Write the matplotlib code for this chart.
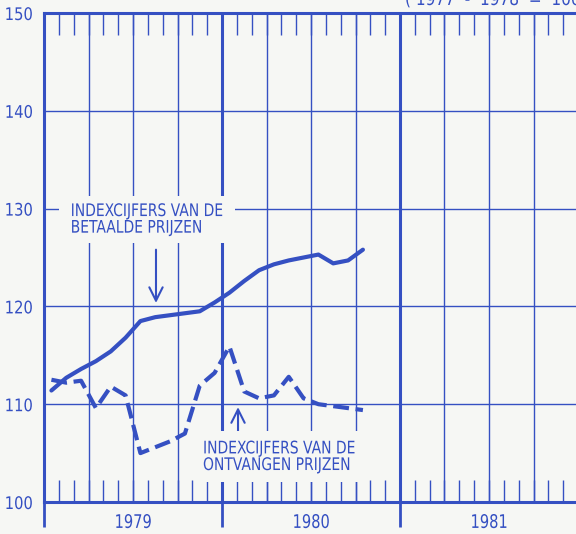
import numpy as np
import matplotlib
matplotlib.use("Agg")
import matplotlib.pyplot as plt
import matplotlib.patheffects as pe
import matplotlib.transforms as mtransforms
from matplotlib.transforms import Affine2D
from matplotlib.patches import Rectangle
from matplotlib.ticker import MultipleLocator, FixedLocator

# ---------------- data ----------------
months = ["1979-01", "1979-02", "1979-03", "1979-04", "1979-05", "1979-06",
          "1979-07", "1979-08", "1979-09", "1979-10", "1979-11", "1979-12",
          "1980-01", "1980-02", "1980-03", "1980-04", "1980-05", "1980-06",
          "1980-07", "1980-08", "1980-09", "1980-10"]
betaalde = [111.4, 112.7, 113.6, 114.4, 115.4, 116.8, 118.5, 118.9, 119.1, 119.3,
            119.5, 120.4, 121.4, 122.6, 123.7, 124.3, 124.7, 125.0, 125.3, 124.4,
            124.7, 125.8]
ontvangen = [112.5, 112.2, 112.4, 109.6, 111.8, 110.9, 105.0, 105.6, 106.2, 107.0,
             111.9, 113.2, 115.9, 111.3, 110.6, 110.9, 112.8, 110.6, 110.0, 109.8,
             109.6, 109.4]
years = ["1979", "1980", "1981"]
yticks = [100, 110, 120, 130, 140, 150]
label_betaalde = "INDEXCIJFERS VAN DE\nBETAALDE PRIJZEN"
label_ontvangen = "INDEXCIJFERS VAN DE\nONTVANGEN PRIJZEN"
basis = "( 1977  -  1978  =  100)"

# ---------------- style ----------------
BLUE = "#3550c2"
BG = "#f6f7f4"
plt.rcParams["font.family"] = ["DejaVu Sans"]


class Condense(pe.AbstractPathEffect):
    """Draw text horizontally condensed (the original uses a narrow stencil face)."""

    def __init__(self, sx, anchor="left"):
        super().__init__()
        self.sx = sx
        self.anchor = anchor

    def draw_path(self, renderer, gc, tpath, affine, rgbFace=None):
        ext = tpath.get_extents()
        if self.anchor == "center":
            cx = 0.5 * (ext.x0 + ext.x1)
        elif self.anchor == "right":
            cx = ext.x1
        else:
            cx = 0.0
        t = Affine2D().translate(-cx, 0).scale(self.sx, 1).translate(cx, 0)
        renderer.draw_path(gc, tpath, t + affine, rgbFace)


fig = plt.figure(figsize=(5.76, 5.34), dpi=100, facecolor=BG)
ax = fig.add_axes([44 / 576, 32 / 534, (576 - 44) / 576, (502 - 13) / 534])
ax.set_facecolor(BG)

x = np.arange(len(months)) + 0.5
ax.set_xlim(0, (576 - 44) / (178 / 12))
ax.set_ylim(100, 150)

# grid
for v in yticks[1:-1]:
    ax.axhline(v, color=BLUE, lw=1.0, zorder=1)
for q in range(3, 37, 3):
    ax.axvline(q, color=BLUE, lw=2.2 if q % 12 == 0 else 1.0, zorder=1)

# spines
for s in ["left", "top", "bottom"]:
    ax.spines[s].set_color(BLUE)
    ax.spines[s].set_linewidth(2.2)
    ax.spines[s].set_zorder(2.5)
ax.spines["right"].set_visible(False)

# ticks
ax.set_yticks(yticks)
ax.set_yticklabels([str(v) for v in yticks])
ax.tick_params(axis="y", length=0, pad=8, labelsize=12.5, labelcolor=BLUE)
for lab in ax.get_yticklabels():
    lab.set_path_effects([Condense(0.85, "right")])
ax.xaxis.set_major_locator(FixedLocator([0, 12, 24, 36]))
ax.xaxis.set_minor_locator(MultipleLocator(1))
ax.set_xticklabels([])
ax.tick_params(axis="x", which="major", direction="out", length=18, width=2.0,
               color=BLUE, top=False, bottom=True)
ax.tick_params(axis="x", which="minor", direction="in", length=16, width=1.0,
               color=BLUE, top=True, bottom=True)

trans = mtransforms.blended_transform_factory(ax.transData, ax.transAxes)
for i, yr in enumerate(years):
    ax.text(6 + 12 * i, -0.053, yr, transform=trans, ha="center", va="baseline",
            fontsize=13.5, color=BLUE, path_effects=[Condense(0.78, "center")])

# data lines
ax.plot(x, betaalde, color=BLUE, lw=3.0, solid_capstyle="round",
        solid_joinstyle="round", zorder=4)
ax.plot(x, ontvangen, color=BLUE, lw=3.0, linestyle=(0, (3.8, 1.6)),
        dash_capstyle="butt", zorder=4)

# labels (white box behind them interrupts the grid, as in the original)
SX = 0.8
t1 = ax.text(1.8, 127.54, label_betaalde, ha="left", va="baseline", fontsize=12.5,
             color=BLUE, linespacing=0.9, zorder=3, path_effects=[Condense(SX)])
t2 = ax.text(10.72, 103.27, label_ontvangen, ha="left", va="baseline", fontsize=12.5,
             color=BLUE, linespacing=0.9, zorder=3, path_effects=[Condense(SX)])

# arrows, with a background-coloured band that breaks the grid line under them
arrows = [((7.55, 120.35), (7.55, 125.8)), ((13.08, 109.7), (13.08, 106.8))]
for tip, tail in arrows:
    ax.annotate("", xy=tip, xytext=tail,
                arrowprops=dict(arrowstyle="-", color=BG, lw=13,
                                shrinkA=0, shrinkB=-6), zorder=1.5)
    ax.annotate("", xy=tip, xytext=tail,
                arrowprops=dict(arrowstyle="->", color=BLUE, lw=1.5,
                                mutation_scale=24, shrinkA=0, shrinkB=0), zorder=2)

fig.text(405 / 576, 1 - 5 / 534, basis, ha="left", va="baseline", fontsize=13,
         color=BLUE, path_effects=[Condense(0.85)])

fig.canvas.draw()
r = fig.canvas.get_renderer()
inv = ax.transAxes.inverted()
for t, pad_x, pad_y in [(t1, 12, 6), (t2, 6, 8)]:
    bb = t.get_window_extent(r)
    x0 = bb.x0 - pad_x
    x1 = bb.x0 + bb.width * SX + pad_x
    y0 = bb.y0 - pad_y
    y1 = bb.y1 + pad_y
    (ax0, ay0) = inv.transform((x0, y0))
    (ax1, ay1) = inv.transform((x1, y1))
    ax.add_patch(Rectangle((ax0, ay0), ax1 - ax0, ay1 - ay0, transform=ax.transAxes,
                           facecolor=BG, edgecolor="none", zorder=2.2))

fig.savefig("out.png", dpi=100, facecolor=BG)
